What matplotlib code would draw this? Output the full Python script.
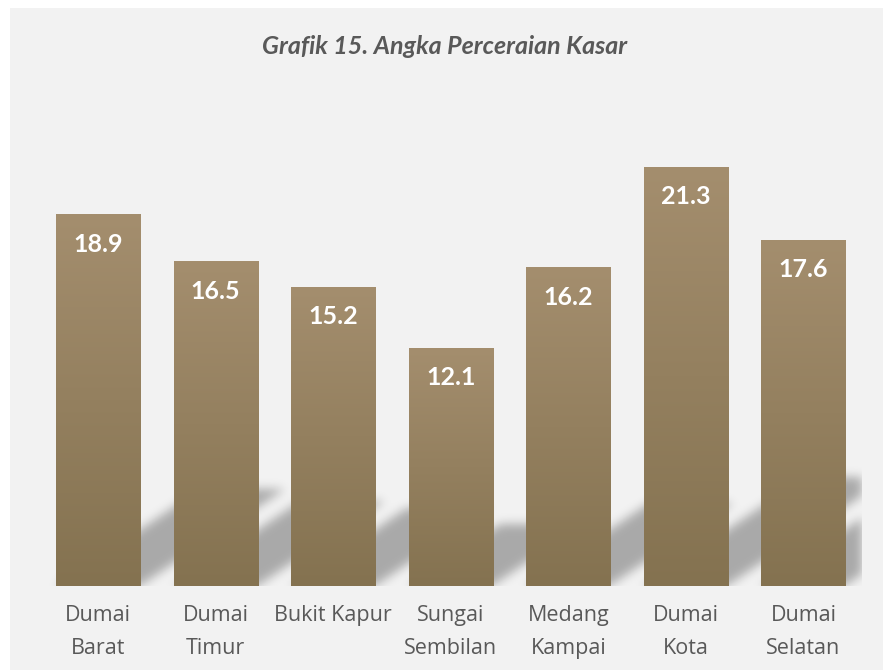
import numpy as np
import matplotlib
matplotlib.use('Agg')
import matplotlib.pyplot as plt
from matplotlib.patches import Rectangle
from matplotlib.colors import LinearSegmentedColormap

# data
kecamatan = ['Dumai\nBarat', 'Dumai\nTimur', 'Bukit Kapur', 'Sungai\nSembilan',
             'Medang\nKampai', 'Dumai\nKota', 'Dumai\nSelatan']
angka_cerai = [18.9, 16.5, 15.2, 12.1, 16.2, 21.3, 17.6]
judul = 'Grafik 15. Angka Perceraian Kasar'

# style
bar_width = 0.715
y_max = 25
bg_color = '#f2f2f2'
text_color = '#595959'
bar_cmap = LinearSegmentedColormap.from_list('coklat', ['#847250', '#a48e6e'])

fig = plt.figure(figsize=(8.83, 6.70), dpi=100)
fig.patch.set_facecolor('white')
fig.patches.append(Rectangle((10 / 883, 0), 1, 1 - 8 / 670, transform=fig.transFigure,
                             facecolor=bg_color, edgecolor='none', zorder=-1))

ax = fig.add_axes([39.25 / 883, 84 / 670, 823 / 883, 492 / 670])
ax.set_facecolor('none')
x_pos = np.arange(len(kecamatan))

# perspective shadow behind the bars (skewed to the upper right, blurred)
px_per_unit = 492 / y_max
shadow_h = 0.26
shadow_skew = 0.25
nx, ny = 823, 220
gx = np.linspace(-0.5, len(kecamatan) - 0.5, nx)
gy = np.linspace(0, ny / px_per_unit, ny)
GX, GY = np.meshgrid(gx, gy)
mask = np.zeros_like(GX)
for xp, v in zip(x_pos, angka_cerai):
    left = xp - bar_width / 2 + shadow_skew * GY
    inside = (GX >= left) & (GX <= left + bar_width) & (GY <= shadow_h * v)
    mask = np.maximum(mask, inside.astype(float))

sigma = 5
k = np.arange(-3 * sigma, 3 * sigma + 1)
kernel = np.exp(-k ** 2 / (2 * sigma ** 2))
kernel /= kernel.sum()
mask = np.array([np.convolve(r, kernel, mode='same') for r in mask])
mask = np.array([np.convolve(c, kernel, mode='same') for c in mask.T]).T

shadow = np.zeros((ny, nx, 4))
shadow[..., 3] = mask * 0.3
ax.imshow(shadow, extent=(gx[0], gx[-1], 0, gy[-1]), origin='lower',
          aspect='auto', zorder=1, interpolation='bilinear')

# bars with vertical gradient
bars = ax.bar(x_pos, angka_cerai, width=bar_width, facecolor='none', linewidth=0, zorder=2)
grad = np.linspace(0, 1, 256).reshape(-1, 1)
for b in bars:
    x0 = b.get_x()
    im = ax.imshow(grad, cmap=bar_cmap, origin='lower', aspect='auto',
                   extent=(x0, x0 + b.get_width(), 0, b.get_height()), zorder=2)
    im.set_clip_path(b)

# value labels
for xp, v in zip(x_pos, angka_cerai):
    ax.annotate(f'{v}', (xp, v), xytext=(0, -30 * 0.72), textcoords='offset points',
                ha='center', va='center', color='white', fontsize=18,
                fontweight='bold', family='Lato', zorder=3)

ax.set_xlim(-0.5, len(kecamatan) - 0.5)
ax.set_ylim(0, y_max)
ax.set_xticks(x_pos)
ax.set_xticklabels(kecamatan, fontsize=15.5, color=text_color, family='Open Sans', linespacing=1.72)
ax.tick_params(axis='x', length=0, pad=14)
ax.set_yticks([])
for s in ax.spines.values():
    s.set_visible(False)

fig.text(0.503, 1 - 47 / 670, judul, ha='center', va='center', fontsize=18,
         fontstyle='italic', fontweight='bold', color=text_color, family='Lato')

fig.savefig('out.png', dpi=100)
